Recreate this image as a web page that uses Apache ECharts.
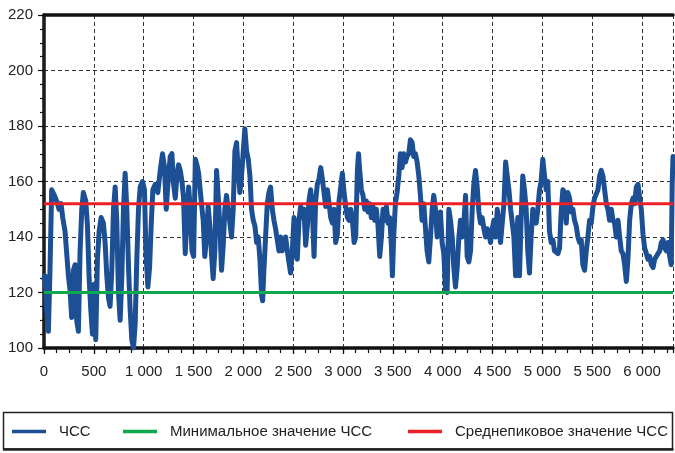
<!DOCTYPE html>
<html>
<head>
<meta charset="utf-8">
<script src="https://cdn.jsdelivr.net/npm/echarts@6/dist/echarts.min.js"></script>
<style>
html,body{margin:0;padding:0;background:#fff;}
#chart{width:675px;height:453px;}
</style>
</head>
<body>
<div id="chart"></div>
<script>
// ---- data ----
const seriesNames = ['ЧСС', 'Минимальное значение ЧСС', 'Среднепиковое значение ЧСС'];
const hrTime = [
  0,10,27,44,60,77,104,127,151,171,188,211,228,245,261,278,295,312,328,345,362,379,395,419,436,452,469,486,503,519,536,553,573,596,613,630,647,663,680,697,714,730,747,764,781,797,814,831,848,864,881,898,915,931,948,965,988,1008,1022,1042,1059,1075,1092,1116,1142,1166,1189,1209,1226,1243,1266,1283,1300,1317,1333,1350,1367,1384,1400,1417,1434,1451,1467,1484,1501,1518,1534,1551,
  1580,1597,1613,1630,1647,1664,1680,1697,1714,1731,1747,1764,1781,1798,1814,1831,1848,1865,1881,1898,1915,1932,1948,1965,1982,1999,2015,2032,2049,2066,2082,2099,2116,2133,2149,2166,2183,2193,2206,2223,2240,2256,2273,2290,2307,2323,2340,2357,2374,2390,2407,2424,2441,2457,2474,2491,2508,2524,2541,2558,2575,2591,2608,2625,2642,2658,2675,2692,2709,2725,2742,2759,2776,2792,2809,2826,2843,2860,2876,2893,2910,2926,2943,2960,2977,2993,3010,3027,3044,3060,3077,3094,3111,3127,3144,3155,
  3167,3184,3200,3217,3234,3251,3267,3284,3301,3318,3334,3351,3368,3385,3401,3418,3435,3452,3468,3485,3495,3508,3525,3542,3559,3575,3592,3609,3626,3642,3659,3676,3693,3709,3726,3743,3760,3776,3793,3810,3827,3843,3860,3877,3894,3910,3927,3944,3961,3977,3994,4011,4028,4044,4061,4078,4095,4111,4128,4145,4162,4178,4195,4212,4229,4245,4262,4279,4296,4312,4329,4346,4363,4379,4396,4413,4430,4446,4463,4480,4497,4513,4530,4547,4564,4580,4597,4614,4631,4647,4664,4681,4698,4714,4731,4742,
  4753,4770,4786,4803,4820,4837,4853,4870,4887,4904,4920,4937,4954,4971,4987,5004,5021,5038,5054,5071,5088,5105,5121,5138,5155,5172,5188,5205,5222,5239,5255,5272,5289,5306,5322,5339,5356,5373,5389,5406,5423,5440,5456,5473,5490,5507,5523,5540,5557,5574,5590,5607,5624,5641,5657,5674,5691,5708,5724,5741,5758,5775,5791,5808,5825,5842,5858,5875,5892,5909,5925,5942,5959,5976,5992,6009,6026,6043,6059,6076,6093,6110,6126,6143,6160,6177,6193,6210,6227,6244,6260,6277,6292,6302,6310
];
const hrValue = [
  125,126,114,106,128,157,155,153,150,152,147,142,134,126,121,111,128,130,110,106,135,150,156,153,144,126,114,105,123,103,132,142,147,145,138,126,118,115,128,150,158,146,120,110,126,150,163,150,129,114,103,100,109,132,150,158,160,157,135,122,129,144,157,159,156,164,170,165,150,159,169,170,159,154,162,166,164,160,154,134,147,158,150,135,133,168,166,163,
  152,146,133,140,151,144,134,125,135,164,155,144,128,137,150,155,150,145,140,150,171,174,164,156,162,171,179,171,168,162,150,146,144,138,140,132,119,117,128,140,152,156,158,150,146,143,139,135,140,135,137,140,135,131,127,135,147,134,132,146,151,147,150,137,144,153,157,150,133,153,159,161,165,161,156,151,157,152,147,145,150,138,141,153,158,163,156,151,147,146,150,146,138,140,164,170,
  164,157,155,150,153,149,152,147,151,146,150,144,133,140,150,146,151,145,147,137,126,140,152,156,162,170,165,170,167,169,170,175,174,169,170,167,162,155,146,152,143,135,131,140,150,155,150,140,146,149,138,134,121,120,150,146,140,129,122,129,140,146,140,145,155,133,131,135,150,159,164,158,149,145,147,143,140,143,141,138,143,146,140,150,145,138,145,152,167,162,157,150,145,140,126,138,
  147,126,146,162,157,150,135,127,140,150,146,145,150,157,160,168,162,157,160,142,138,139,135,135,134,136,149,157,156,145,156,154,149,150,146,144,140,138,139,130,128,135,140,146,145,151,154,154,157,162,164,162,157,152,150,146,150,146,145,140,146,140,135,134,130,124,132,146,152,154,152,158,159,154,150,141,136,134,132,133,130,129,132,133,134,135,138,139,136,135,138,133,130,159,169
];
const minHR = 120;
const peakAvgHR = 152;
const xMin = 0, xMax = 6310, xStep = 500, xMinorStep = 125;
const yMin = 100, yMax = 220, yStep = 20;

// ---- chart ----
const FONT = "'Liberation Sans', Arial, sans-serif";
const chart = echarts.init(document.getElementById('chart'), null, {renderer: 'canvas'});
const fmtX = v => (v % xStep === 0) ? String(v).replace(/\B(?=(\d{3})+(?!\d))/g, ' ') : '';
const hrData = hrTime.map((t, i) => [t, hrValue[i]]);
const lineAt = v => [[xMin, v], [xMax, v]];

const mkLegend = (name, left) => ({
  data: [{name: name, icon: 'rect'}],
  left: left, top: 424, padding: 0,
  itemWidth: 34, itemHeight: 3.5,
  textStyle: {fontFamily: FONT, fontSize: 15, color: '#222', lineHeight: 15, padding: [0, 0, 0, 8]},
  selectedMode: false
});
const hidden = {axisTick: {show: false}, axisLabel: {show: false}, splitLine: {show: false}};

chart.setOption({
  animation: false,
  backgroundColor: '#fff',
  grid: {left: 44, right: 2, top: 15, bottom: 105, containLabel: false},
  legend: [mkLegend(seriesNames[0], 12), mkLegend(seriesNames[1], 123), mkLegend(seriesNames[2], 408)],
  xAxis: [{
    type: 'value', min: xMin, max: xMax, interval: xStep,
    axisLine: {show: true, lineStyle: {color: '#111', width: 3.5}},
    axisTick: {show: true, length: 6, lineStyle: {color: '#111', width: 1.2}},
    axisLabel: {formatter: fmtX, fontFamily: FONT, fontSize: 15, color: '#222', margin: 16, showMaxLabel: false},
    splitLine: {show: true, lineStyle: {color: '#333', width: 1, type: [4, 3]}}
  }, {
    type: 'value', position: 'top', min: xMin, max: xMax, interval: xStep,
    axisLine: {show: true, lineStyle: {color: '#111', width: 3.5}}, ...hidden
  }, {
    type: 'value', position: 'bottom', offset: 0, min: xMin, max: xMax, interval: xMinorStep,
    axisLine: {show: false},
    axisTick: {show: true, length: 5, lineStyle: {color: '#111', width: 1.2}},
    axisLabel: {show: false}, splitLine: {show: false}
  }],
  yAxis: [{
    type: 'value', min: yMin, max: yMax, interval: yStep,
    axisLine: {show: true, lineStyle: {color: '#111', width: 3.5}},
    axisTick: {show: true, length: 6, lineStyle: {color: '#111', width: 1.2}},
    minorTick: {show: true, splitNumber: 4, length: 4, lineStyle: {color: '#111', width: 1.2}},
    axisLabel: {fontFamily: FONT, fontSize: 15, color: '#222', margin: 11},
    splitLine: {show: true, lineStyle: {color: '#333', width: 1, type: [4, 3]}}
  }, {
    type: 'value', position: 'right', min: yMin, max: yMax, interval: yStep,
    axisLine: {show: true, lineStyle: {color: '#222', width: 1.5}}, ...hidden
  }],
  series: [{
    name: seriesNames[0], type: 'line', data: hrData, showSymbol: false, symbol: 'none',
    lineStyle: {color: '#1c4f94', width: 5, join: 'round', cap: 'round'},
    itemStyle: {color: '#1c4f94'}, z: 2
  }, {
    name: seriesNames[1], type: 'line', data: lineAt(minHR), showSymbol: false, symbol: 'none',
    lineStyle: {color: '#10a84f', width: 3}, itemStyle: {color: '#10a84f'}, z: 3
  }, {
    name: seriesNames[2], type: 'line', data: lineAt(peakAvgHR), showSymbol: false, symbol: 'none',
    lineStyle: {color: '#ec2027', width: 3}, itemStyle: {color: '#ec2027'}, z: 4
  }],
  graphic: [{
    type: 'rect', shape: {x: 3.5, y: 412.5, width: 669, height: 36.5},
    style: {fill: 'none', stroke: '#222', lineWidth: 1.5}, silent: true
  }, {
    type: 'line', shape: {x1: 3, y1: 449.5, x2: 673.5, y2: 449.5},
    style: {stroke: '#222', lineWidth: 2.5}, silent: true
  }]
});
</script>
</body>
</html>
